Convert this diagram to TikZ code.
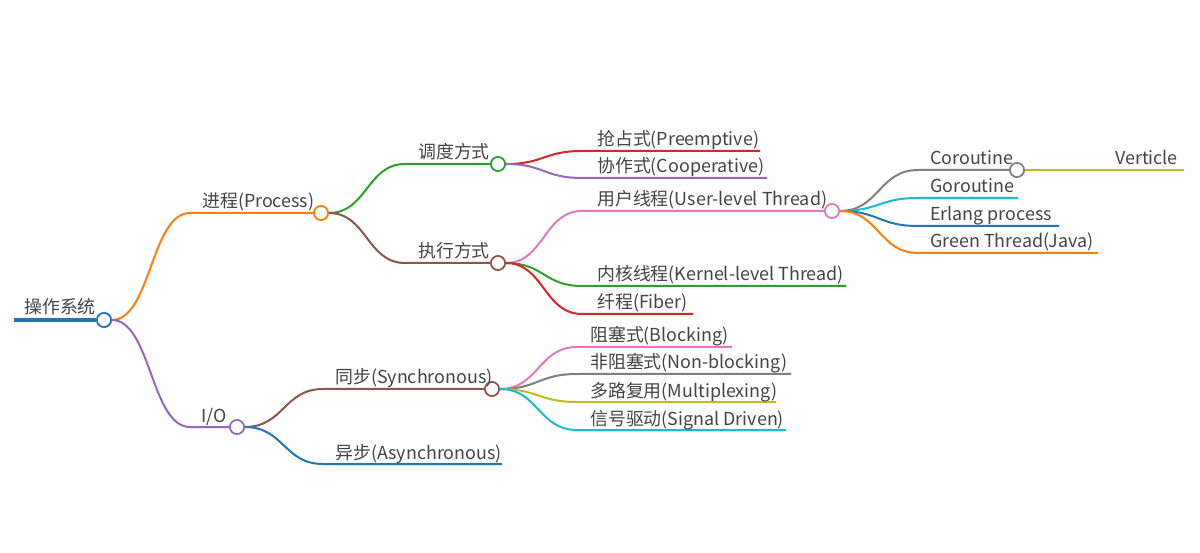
\documentclass[tikz,border=0pt]{standalone}
\usepackage{fontspec}
\setmainfont{Noto Sans CJK SC}
\usetikzlibrary{calc}
\definecolor{tblue}{HTML}{1F77B4}
\definecolor{torange}{HTML}{FF7F0E}
\definecolor{tgreen}{HTML}{2CA02C}
\definecolor{tred}{HTML}{D62728}
\definecolor{tpurple}{HTML}{9467BD}
\definecolor{tbrown}{HTML}{8C564B}
\definecolor{tpink}{HTML}{E377C2}
\definecolor{tgray}{HTML}{7F7F7F}
\definecolor{tolive}{HTML}{BCBD22}
\definecolor{tcyan}{HTML}{17BECF}
\definecolor{txt}{HTML}{444444}
\tikzset{
  sig/.style={to path={let \p1=(\tikztostart), \p2=(\tikztotarget) in
      .. controls ({(\x1+\x2)/2},\y1) and ({(\x1+\x2)/2},\y2) .. (\tikztotarget) \tikztonodes}},
  br/.style={draw=#1, line width=2pt},
  dot/.style={circle, draw=#1, fill=white, line width=1.6pt, minimum size=14pt, inner sep=0pt},
  lbl/.style={anchor=base west, inner sep=0pt, text=txt, font=\fontsize{17.9pt}{20pt}\selectfont},
}
\begin{document}
\begin{tikzpicture}[x=1pt,y=-1pt]
\useasboundingbox[fill=white] (0,0) rectangle (1200,553);

\coordinate (rootS) at (14,320);
\coordinate (procS) at (190,213);
\coordinate (ioS) at (190,427);
\coordinate (schedS) at (405,164);
\coordinate (execS) at (405,263);
\coordinate (syncS) at (323,389);
\coordinate (asyncS) at (323,464);
\coordinate (asyncE) at (502,464);
\coordinate (preS) at (582,151);  \coordinate (preE) at (760,151);
\coordinate (coopS) at (582,178); \coordinate (coopE) at (767,178);
\coordinate (userS) at (582,211);
\coordinate (kernS) at (582,286); \coordinate (kernE) at (846,286);
\coordinate (fibS) at (582,314);  \coordinate (fibE) at (693,314);
\coordinate (corS) at (918,170);
\coordinate (vertE) at (1184,170);
\coordinate (goS) at (918,198);   \coordinate (goE) at (1018,198);
\coordinate (erlS) at (918,226);  \coordinate (erlE) at (1059,226);
\coordinate (grS) at (918,253);   \coordinate (grE) at (1098,253);
\coordinate (blkS) at (577,347);  \coordinate (blkE) at (732,347);
\coordinate (nblS) at (577,374);  \coordinate (nblE) at (791,374);
\coordinate (mulS) at (577,402);  \coordinate (mulE) at (776,402);
\coordinate (sigS) at (577,430);  \coordinate (sigE) at (786,430);

\node[dot=tblue] (root) at (104,320) {};
\node[dot=torange] (proc) at (321,213) {};
\node[dot=tpurple] (io) at (237,427) {};
\node[dot=tgreen] (sched) at (498,164) {};
\node[dot=tbrown] (exec) at (498,263) {};
\node[dot=tpink] (user) at (832,211) {};
\node[dot=tgray] (cor) at (1017,170) {};
\node[dot=tbrown] (sync) at (492,389) {};

\draw[draw=tblue, line width=4pt] (rootS) -- (root.west);
\draw[br=torange] (root.east) to[sig] (procS) -- (proc.west);
\draw[br=tpurple] (root.east) to[sig] (ioS) -- (io.west);
\draw[br=tgreen] (proc.east) to[sig] (schedS) -- (sched.west);
\draw[br=tbrown] (proc.east) to[sig] (execS) -- (exec.west);
\draw[br=tred] (sched.east) to[sig] (preS) -- (preE);
\draw[br=tpurple] (sched.east) to[sig] (coopS) -- (coopE);
\draw[br=tpink] (exec.east) to[sig] (userS) -- (user.west);
\draw[br=tgreen] (exec.east) to[sig] (kernS) -- (kernE);
\draw[br=tred] (exec.east) to[sig] (fibS) -- (fibE);
\draw[br=tgray] (user.east) to[sig] (corS) -- (cor.west);
\draw[br=tcyan] (user.east) to[sig] (goS) -- (goE);
\draw[br=tblue] (user.east) to[sig] (erlS) -- (erlE);
\draw[br=torange] (user.east) to[sig] (grS) -- (grE);
\draw[br=tolive] (cor.east) -- (vertE);
\draw[br=tbrown] (io.east) to[sig] (syncS) -- (sync.west);
\draw[br=tblue] (io.east) to[sig] (asyncS) -- (asyncE);
\draw[br=tpink] (sync.east) to[sig] (blkS) -- (blkE);
\draw[br=tgray] (sync.east) to[sig] (nblS) -- (nblE);
\draw[br=tolive] (sync.east) to[sig] (mulS) -- (mulE);
\draw[br=tcyan] (sync.east) to[sig] (sigS) -- (sigE);

\foreach \n/\c in {root/tblue,proc/torange,io/tpurple,sched/tgreen,exec/tbrown,user/tpink,cor/tgray,sync/tbrown}
  \draw[draw=\c, fill=white, line width=1.6pt] (\n.center) circle (7pt);

\node[lbl] (rootT) at (24,314) {操作系统};
\node[lbl] (procT) at (202,208) {进程(Process)};
\node[lbl] (ioT) at (201,422) {I/O};
\node[lbl] (schedT) at (418,159) {调度方式};
\node[lbl] (execT) at (418,258) {执行方式};
\node[lbl] (preT) at (597,146) {抢占式(Preemptive)};
\node[lbl] (coopT) at (597,173) {协作式(Cooperative)};
\node[lbl] (userT) at (597,206) {用户线程(User-level Thread)};
\node[lbl] (kernT) at (597,281) {内核线程(Kernel-level Thread)};
\node[lbl] (fibT) at (597,309) {纤程(Fiber)};
\node[lbl] (corT) at (930,165) {Coroutine};
\node[lbl] (vertT) at (1115,165) {Verticle};
\node[lbl] (goT) at (930,193) {Goroutine};
\node[lbl] (erlT) at (930,221) {Erlang process};
\node[lbl] (grT) at (930,248) {Green Thread(Java)};
\node[lbl] (syncT) at (335,384) {同步(Synchronous)};
\node[lbl] (asyncT) at (335,459) {异步(Asynchronous)};
\node[lbl] (blkT) at (590,342) {阻塞式(Blocking)};
\node[lbl] (nblT) at (590,369) {非阻塞式(Non-blocking)};
\node[lbl] (mulT) at (590,397) {多路复用(Multiplexing)};
\node[lbl] (sigT) at (590,425) {信号驱动(Signal Driven)};
\end{tikzpicture}
\end{document}
